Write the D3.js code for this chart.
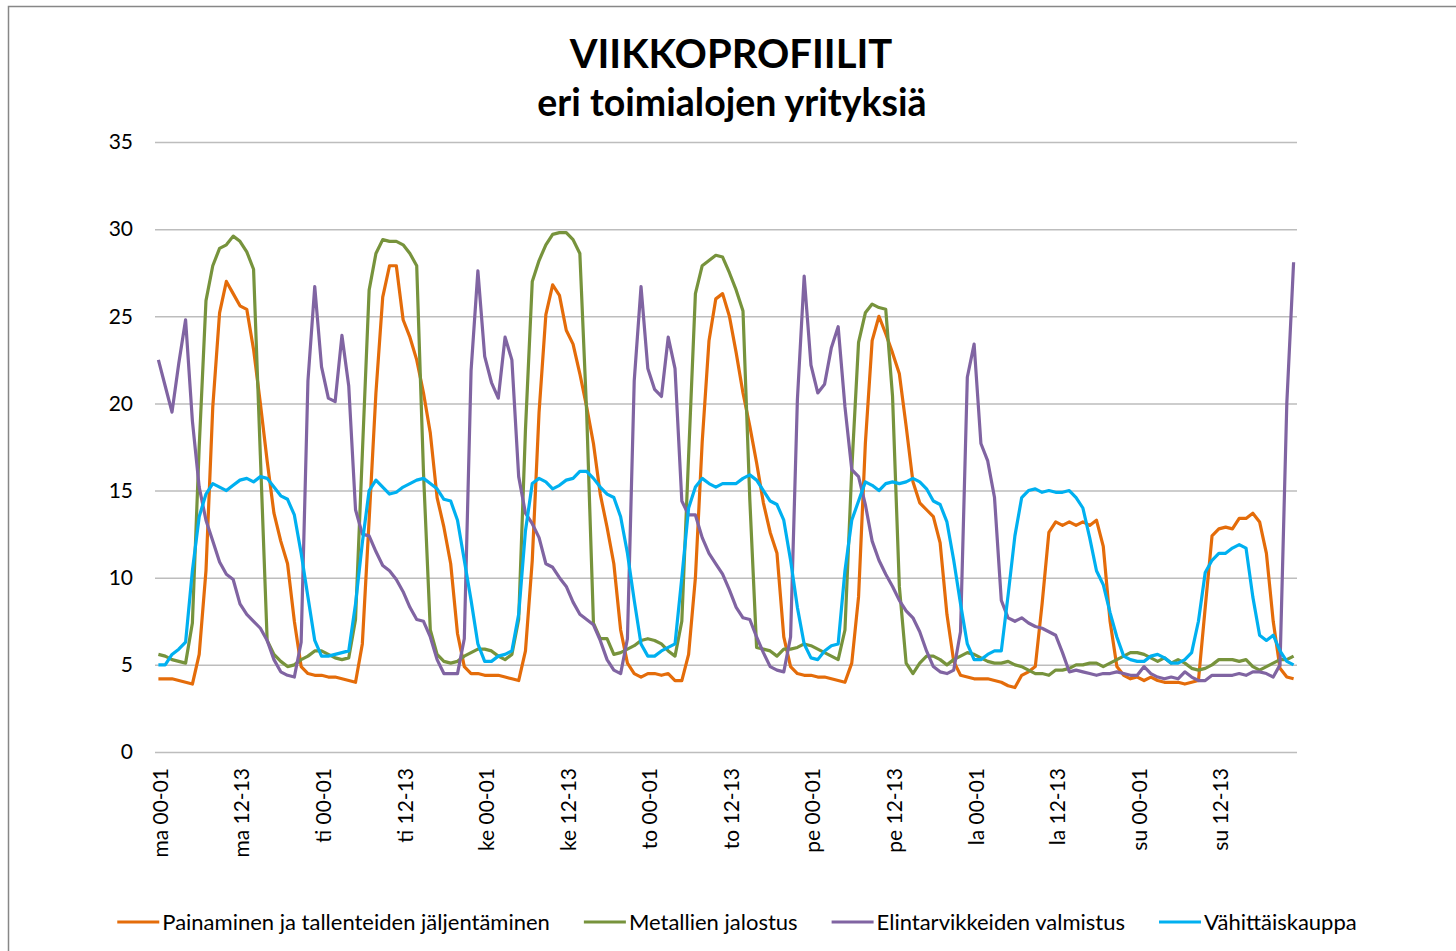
<!DOCTYPE html>
<html lang="fi">
<head>
<meta charset="utf-8">
<style>
body { margin: 0; background: #fff; font-family: Lato, "Noto Sans", sans-serif; }
svg text { fill: #000; }
</style>
<title>Viikkoprofiilit</title>
<script src="https://cdn.jsdelivr.net/npm/d3@7"></script>
</head>
<body>
<script>

// paivat ja tunnit -> 168 luokkaa
var days = ["ma", "ti", "ke", "to", "pe", "la", "su"];
var hours = d3.range(24).map(function(h) {
	return d3.format("02")(h) + "-" + d3.format("02")((h + 1) % 100);
});
var categories = [];
days.forEach(function(d) { hours.forEach(function(h) { categories.push(d + " " + h); }); });
var tickLabels = categories.filter(function(d, i) { return i % 12 === 0; });
var yTicks = [0, 5, 10, 15, 20, 25, 30, 35];

var seriesNames = ["Painaminen ja tallenteiden jäljentäminen", "Metallien jalostus",
	"Elintarvikkeiden valmistus", "Vähittäiskauppa"];

var painaminen = [
	4.2, 4.2, 4.2, 4.1, 4.0, 3.9, 5.6, 10.4, 19.8, 25.2, 27.0, 26.3, 25.6, 25.4, 23.1, 20.0, 16.7, 13.7, 12.1, 10.8, 7.5, 4.9, 4.5, 4.4,
	4.4, 4.3, 4.3, 4.2, 4.1, 4.0, 6.2, 13.3, 20.6, 26.1, 27.9, 27.9, 24.8, 23.8, 22.5, 20.6, 18.3, 14.6, 12.9, 10.8, 6.8, 4.9, 4.5, 4.5,
	4.4, 4.4, 4.4, 4.3, 4.2, 4.1, 5.8, 11.0, 19.5, 25.1, 26.8, 26.2, 24.2, 23.4, 21.7, 19.8, 17.7, 14.8, 12.9, 10.8, 7.0, 5.1, 4.5, 4.3,
	4.5, 4.5, 4.4, 4.5, 4.1, 4.1, 5.6, 10.0, 17.8, 23.6, 26.0, 26.3, 25.0, 22.9, 20.6, 18.7, 16.6, 14.3, 12.6, 11.4, 6.6, 4.9, 4.5, 4.4,
	4.4, 4.3, 4.3, 4.2, 4.1, 4.0, 5.1, 8.9, 17.7, 23.6, 25.0, 24.0, 22.9, 21.7, 18.7, 15.5, 14.3, 13.9, 13.5, 12.0, 7.9, 5.2, 4.4, 4.3,
	4.2, 4.2, 4.2, 4.1, 4.0, 3.8, 3.7, 4.4, 4.6, 4.9, 8.5, 12.6, 13.2, 13.0, 13.2, 13.0, 13.2, 13.0, 13.3, 11.8, 7.5, 4.9, 4.4, 4.2,
	4.3, 4.1, 4.3, 4.1, 4.0, 4.0, 4.0, 3.9, 4.0, 4.1, 8.3, 12.4, 12.8, 12.9, 12.8, 13.4, 13.4, 13.7, 13.2, 11.4, 7.5, 4.8, 4.3, 4.2
];
var metallit = [
	5.6, 5.5, 5.3, 5.2, 5.1, 7.4, 17.5, 25.9, 27.9, 28.9, 29.1, 29.6, 29.3, 28.7, 27.7, 17.0, 6.4, 5.6, 5.2, 4.9, 5.0, 5.3, 5.5, 5.8,
	5.8, 5.6, 5.4, 5.3, 5.4, 7.6, 17.1, 26.5, 28.6, 29.4, 29.3, 29.3, 29.1, 28.6, 27.9, 16.0, 7.0, 5.6, 5.2, 5.1, 5.2, 5.5, 5.7, 5.9,
	5.9, 5.8, 5.5, 5.3, 5.6, 7.6, 18.5, 27.0, 28.2, 29.1, 29.7, 29.8, 29.8, 29.4, 28.6, 19.5, 7.4, 6.5, 6.5, 5.6, 5.7, 5.9, 6.1, 6.4,
	6.5, 6.4, 6.2, 5.8, 5.5, 7.5, 17.0, 26.3, 27.9, 28.2, 28.5, 28.4, 27.5, 26.5, 25.3, 14.5, 6.0, 5.9, 5.8, 5.5, 5.9, 5.9, 6.0, 6.2,
	6.1, 5.9, 5.7, 5.5, 5.3, 7.0, 16.2, 23.5, 25.2, 25.7, 25.5, 25.4, 20.4, 9.5, 5.1, 4.5, 5.1, 5.5, 5.5, 5.3, 5.0, 5.3, 5.5, 5.7,
	5.6, 5.4, 5.2, 5.1, 5.1, 5.2, 5.0, 4.9, 4.7, 4.5, 4.5, 4.4, 4.7, 4.7, 4.8, 5.0, 5.0, 5.1, 5.1, 4.9, 5.1, 5.3, 5.5, 5.7,
	5.7, 5.6, 5.4, 5.2, 5.4, 5.1, 5.3, 5.1, 4.8, 4.7, 4.8, 5.0, 5.3, 5.3, 5.3, 5.2, 5.3, 4.9, 4.7, 4.9, 5.1, 5.3, 5.3, 5.5
];
var elintarvike = [
	22.5, 21.0, 19.5, 22.3, 24.8, 19.0, 15.2, 13.3, 12.1, 10.9, 10.2, 9.9, 8.5, 7.9, 7.5, 7.1, 6.4, 5.3, 4.6, 4.4, 4.3, 6.3, 21.3, 26.7,
	22.1, 20.3, 20.1, 23.9, 21.0, 13.9, 12.5, 12.4, 11.5, 10.7, 10.4, 9.9, 9.2, 8.3, 7.6, 7.5, 6.6, 5.3, 4.5, 4.5, 4.5, 6.5, 21.9, 27.6,
	22.7, 21.2, 20.3, 23.8, 22.5, 15.8, 13.7, 13.1, 12.3, 10.8, 10.6, 10.0, 9.5, 8.6, 7.9, 7.6, 7.3, 6.4, 5.3, 4.7, 4.5, 6.5, 21.3, 26.7,
	22.0, 20.8, 20.4, 23.8, 22.0, 14.4, 13.6, 13.6, 12.3, 11.4, 10.8, 10.2, 9.3, 8.3, 7.7, 7.6, 6.6, 5.7, 4.9, 4.7, 4.6, 6.6, 20.2, 27.3,
	22.2, 20.6, 21.1, 23.2, 24.4, 19.8, 16.2, 15.8, 14.2, 12.1, 11.0, 10.2, 9.5, 8.7, 8.1, 7.7, 6.9, 5.8, 4.9, 4.6, 4.5, 4.7, 6.9, 21.5,
	23.4, 17.7, 16.7, 14.6, 8.7, 7.7, 7.5, 7.7, 7.4, 7.2, 7.1, 6.9, 6.7, 5.7, 4.6, 4.7, 4.6, 4.5, 4.4, 4.5, 4.5, 4.6, 4.5, 4.4,
	4.4, 4.9, 4.5, 4.3, 4.2, 4.3, 4.2, 4.6, 4.3, 4.1, 4.1, 4.4, 4.4, 4.4, 4.4, 4.5, 4.4, 4.6, 4.6, 4.5, 4.3, 5.0, 20.0, 28.1
];
var vahittais = [
	5.0, 5.0, 5.6, 5.9, 6.3, 10.4, 13.5, 14.8, 15.4, 15.2, 15.0, 15.3, 15.6, 15.7, 15.5, 15.8, 15.7, 15.2, 14.7, 14.5, 13.6, 11.4, 8.9, 6.4,
	5.5, 5.5, 5.6, 5.7, 5.8, 8.5, 12.0, 15.0, 15.6, 15.2, 14.8, 14.9, 15.2, 15.4, 15.6, 15.7, 15.4, 15.1, 14.5, 14.4, 13.3, 11.0, 8.7, 6.2,
	5.2, 5.2, 5.5, 5.6, 5.8, 7.9, 12.7, 15.4, 15.7, 15.5, 15.1, 15.3, 15.6, 15.7, 16.1, 16.1, 15.7, 15.2, 14.8, 14.6, 13.5, 11.4, 8.7, 6.2,
	5.5, 5.5, 5.8, 6.0, 6.2, 10.0, 14.0, 15.2, 15.7, 15.4, 15.2, 15.4, 15.4, 15.4, 15.7, 15.9, 15.6, 15.0, 14.4, 14.2, 13.3, 11.0, 8.3, 6.2,
	5.4, 5.3, 5.8, 6.1, 6.2, 10.4, 13.3, 14.4, 15.5, 15.3, 15.0, 15.4, 15.5, 15.4, 15.5, 15.7, 15.5, 15.1, 14.4, 14.2, 13.2, 11.0, 8.5, 6.2,
	5.3, 5.3, 5.6, 5.8, 5.8, 9.0, 12.4, 14.6, 15.0, 15.1, 14.9, 15.0, 14.9, 14.9, 15.0, 14.6, 14.0, 12.3, 10.4, 9.6, 8.0, 6.6, 5.5, 5.3,
	5.2, 5.2, 5.5, 5.6, 5.4, 5.1, 5.1, 5.3, 5.7, 7.5, 10.3, 11.0, 11.4, 11.4, 11.7, 11.9, 11.7, 8.9, 6.7, 6.4, 6.7, 5.8, 5.2, 5.0
];

var colors = ["#E46C0A", "#77933C", "#8064A2", "#00B0F0"];
var series = [painaminen, metallit, elintarvike, vahittais];

var width = 1456, height = 951;
var plotLeft = 155, plotRight = 1297, plotTop = 142, plotBottom = 752;

var svg = d3.select("body").append("svg")
	.attr("width", width)
	.attr("height", height);

// reunus
svg.append("rect")
	.attr("x", 8.5).attr("y", 6.5)
	.attr("width", 1600).attr("height", 1100)
	.attr("fill", "none")
	.attr("stroke", "#878787")
	.attr("stroke-width", 1.5);

svg.append("text")
	.attr("x", 731).attr("y", 68)
	.attr("text-anchor", "middle")
	.style("font-size", "40px").style("font-weight", "bold")
	.text("VIIKKOPROFIILIT");
svg.append("text")
	.attr("x", 732).attr("y", 116)
	.attr("text-anchor", "middle")
	.style("font-size", "37.5px").style("font-weight", "bold")
	.text("eri toimialojen yrityksiä");

var x = d3.scaleBand().domain(categories).range([plotLeft, plotRight]);
var y = d3.scaleLinear().domain([0, 35]).range([plotBottom, plotTop]);
var bw = x.bandwidth();

var yAxis = svg.append("g")
	.attr("transform", "translate(" + plotLeft + ",0)")
	.call(d3.axisLeft(y).tickValues(yTicks).tickSize(-(plotRight - plotLeft)).tickPadding(22));
yAxis.select(".domain").remove();
yAxis.selectAll("line").attr("stroke", "#bdbdbd").attr("stroke-width", 1.5);
yAxis.selectAll("text").style("font-size", "21px").style("font-family", "Lato, sans-serif");

var xAxis = svg.append("g")
	.attr("transform", "translate(0," + plotBottom + ")")
	.call(d3.axisBottom(x).tickValues(tickLabels).tickSize(0));
xAxis.select(".domain").remove();
xAxis.selectAll("text")
	.attr("transform", "rotate(-90)")
	.attr("x", -16).attr("y", 0).attr("dy", "0.45em")
	.attr("text-anchor", "end")
	.style("font-size", "21px").style("font-family", "Lato, sans-serif");

var line = d3.line()
	.x(function(d, i) { return x(categories[i]) + bw / 2; })
	.y(function(d) { return y(d); });

series.forEach(function(s, k) {
	svg.append("path")
		.datum(s)
		.attr("d", line)
		.attr("fill", "none")
		.attr("stroke", colors[k])
		.attr("stroke-width", 3.2)
		.attr("stroke-linejoin", "round");
});

// selite
var legend = svg.append("g");
var lx = 0;
seriesNames.forEach(function(name, k) {
	var g = legend.append("g").attr("transform", "translate(" + lx + ",0)");
	g.append("line")
		.attr("x1", 0).attr("x2", 42).attr("y1", 0).attr("y2", 0)
		.attr("stroke", colors[k]).attr("stroke-width", 3);
	var t = g.append("text")
		.attr("x", 45).attr("y", 0).attr("dy", "0.35em")
		.style("font-size", "22px")
		.text(name);
	lx += 45 + t.node().getComputedTextLength() + 34;
});
legend.attr("transform", "translate(" + (737 - (lx - 34) / 2) + ",922)");

</script>
</body>
</html>
